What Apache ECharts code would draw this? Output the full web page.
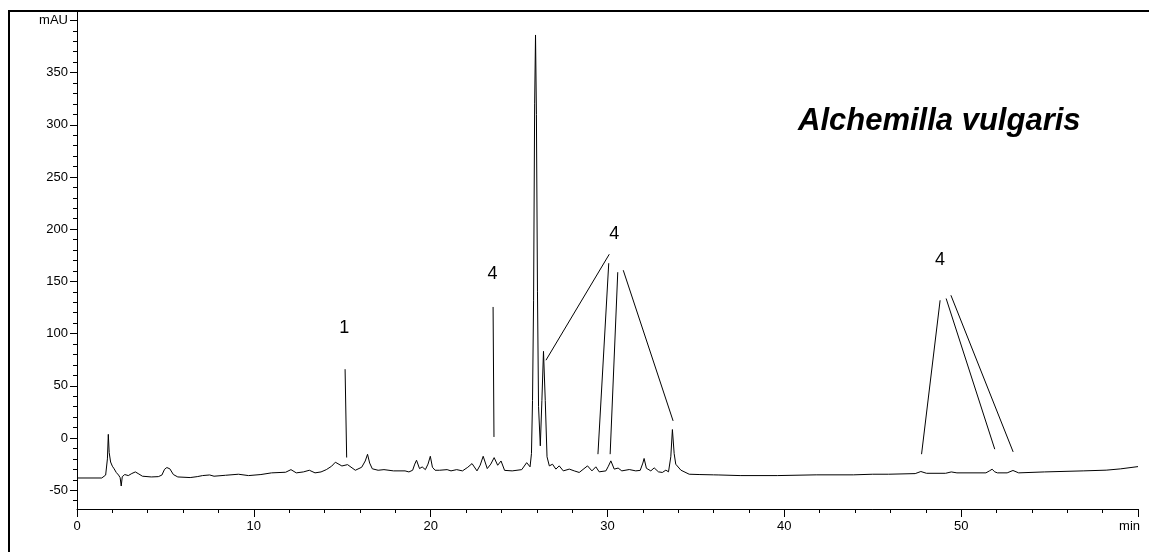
<!DOCTYPE html>
<html>
<head>
<meta charset="utf-8">
<script src="https://cdn.jsdelivr.net/npm/echarts@6/dist/echarts.min.js"></script>
<style>
  html, body { margin: 0; padding: 0; background: #fff; }
  #main { width: 1149px; height: 552px; }
</style>
</head>
<body>
<div id="main"></div>
<script>
// retention time (min) and absorbance (mAU)
var timeX = [0, 1.4, 1.62, 1.72, 1.77, 1.82, 1.9, 2.0, 2.1, 2.22, 2.35, 2.44, 2.5, 2.56, 2.7, 2.9, 3.1, 3.3, 3.5, 3.7,
  4.2, 4.6, 4.8, 4.95, 5.08, 5.25, 5.45, 5.7, 6.4, 6.8, 7.1, 7.5, 7.75, 8.4, 9.13, 9.7, 10.4, 11.0, 11.8, 12.1,
  12.4, 12.8, 13.14, 13.46, 13.8, 14.1, 14.4, 14.61, 14.98, 15.3, 15.74, 16.1, 16.3, 16.43, 16.55, 16.7, 17.03, 17.36, 17.9, 18.55,
  18.77, 18.98, 19.1, 19.2, 19.37, 19.52, 19.7, 19.85, 19.98, 20.1, 20.25, 20.5, 20.93, 21.15, 21.47, 21.8, 22.1, 22.34, 22.62, 22.8,
  22.97, 23.2, 23.4, 23.59, 23.79, 23.98, 24.18, 24.61, 25.15, 25.43, 25.62, 25.7, 25.76, 25.82, 25.88, 25.93, 25.98, 26.04, 26.1, 26.2,
  26.29, 26.38, 26.48, 26.58, 26.71, 26.89, 27.08, 27.27, 27.5, 27.84, 28.12, 28.4, 28.87, 29.12, 29.34, 29.53, 29.91, 30.05, 30.19, 30.38,
  30.6, 30.81, 31.23, 31.6, 31.85, 32.0, 32.07, 32.2, 32.45, 32.64, 32.88, 33.1, 33.3, 33.45, 33.58, 33.67, 33.77, 33.86, 34.15, 34.62,
  35.18, 36.0, 36.1, 36.3, 37.5, 39.6, 41.8, 43.9, 45.0, 45.9, 47.4, 47.72, 48.04, 49.12, 49.44, 49.76, 51.4, 51.6, 51.75, 51.9,
  52.05, 52.6, 52.93, 53.25, 54.7, 56.9, 58.2, 59.0, 60.0];
var signal = [-38.3, -38.3, -35.5, -20, 3.5, -14, -23, -27, -29.5, -33, -35.5, -38, -46, -37, -35, -36, -34, -32.5, -34.5, -36.6,
  -37.3, -37, -35.5, -30, -28.3, -29.5, -35, -37.3, -37.9, -37, -36, -35.4, -36.6, -35.7, -34.7, -36, -35, -33.4, -32.8, -30.3,
  -33.4, -32.5, -30.9, -33.4, -32.5, -30.3, -27, -23.2, -26.8, -25.5, -30.9, -28, -22, -15.6, -24, -29.5, -30.9, -30.3, -31.5, -31.5,
  -32.5, -30.9, -25, -21.3, -29.3, -27.7, -30.3, -25, -17.5, -28, -30.9, -30.9, -30.3, -31.5, -30.3, -31.5, -28, -24.5, -31.5, -26,
  -17.5, -29.3, -25, -18.8, -26.1, -22, -31, -31.5, -30.3, -23.6, -27.6, -15, 36, 132, 320, 386, 310, 140, 30, -7.5,
  36, 83, 36, -18, -26.7, -25.1, -29.8, -26.7, -31.5, -29.8, -31.5, -33, -26.7, -31.5, -27.6, -32.4, -31.5, -27, -21.9, -29.8,
  -28.8, -31.5, -30.2, -31.5, -31, -24, -19.6, -29, -31.5, -28.6, -32.4, -33, -30.8, -32.4, -18, 8.1, -15, -25.1, -30.8, -34.7,
  -35, -35.3, -34.6, -35.4, -36, -36, -35.3, -35.3, -34.7, -34.7, -34.1, -32.1, -33.8, -33.8, -32.5, -33.4, -33.4, -31.5, -29.9, -32.4,
  -33.4, -33.4, -31.1, -33.4, -32.5, -31.5, -30.8, -29.6, -27.4];

// peak annotations
var peakText = ['1', '4', '4', '4'];
var peakTextAt = [[15.12, 105], [23.5, 157.5], [30.38, 195.1], [48.8, 170.9]];
var pointerFrom = [[15.16, 65.9], [23.53, 125.5], [30.10, 176.0], [30.07, 167.4], [30.58, 158.8], [30.89, 160.7],
  [48.81, 131.9], [49.15, 133.6], [49.42, 136.7]];
var pointerTo = [[15.25, -18.7], [23.58, 1.0], [26.52, 74.5], [29.46, -15.5], [30.15, -15.5], [33.71, 16.4],
  [47.76, -15.5], [51.90, -10.7], [52.94, -13.3]];

var majorY = [-50, 0, 50, 100, 150, 200, 250, 300, 350, 400];
var minorY = [-60, -40, -30, -20, -10, 10, 20, 30, 40, 60, 70, 80, 90, 110, 120, 130, 140, 160, 170, 180, 190,
  210, 220, 230, 240, 260, 270, 280, 290, 310, 320, 330, 340, 360, 370, 380, 390];

var font = 'Liberation Sans, Arial, sans-serif';

var trace = timeX.map(function (t, i) { return [t, signal[i]]; });
var labels = peakText.map(function (s, i) {
  return { coord: peakTextAt[i], name: s, value: s };
});
var pointers = pointerFrom.map(function (p, i) { return [{ coord: p }, { coord: pointerTo[i] }]; });

var chart = echarts.init(document.getElementById('main'));
chart.setOption({
  animation: false,
  title: {
    text: 'Alchemilla vulgaris',
    left: 793,
    top: 101,
    textStyle: { fontFamily: font, fontSize: 31, fontStyle: 'italic', fontWeight: 'bold', color: '#000' }
  },
  graphic: [
    { type: 'line', shape: { x1: 8, y1: 11, x2: 1149, y2: 11 }, style: { stroke: '#000', lineWidth: 2 } },
    { type: 'line', shape: { x1: 9, y1: 10, x2: 9, y2: 552 }, style: { stroke: '#000', lineWidth: 2 } }
  ],
  grid: { left: 77, right: 11, top: 12, bottom: 43 },
  xAxis: {
    type: 'value',
    min: 0,
    max: 60,
    interval: 10,
    name: 'min',
    nameLocation: 'end',
    nameGap: 2,
    nameTextStyle: { fontFamily: font, fontSize: 13, color: '#000', align: 'right', verticalAlign: 'top', padding: [11, 0, 0, 0] },
    axisLine: { onZero: false, lineStyle: { color: '#000', width: 1 } },
    axisTick: { length: 8, lineStyle: { color: '#000' } },
    minorTick: { show: true, splitNumber: 5, length: 4, lineStyle: { color: '#000' } },
    axisLabel: { fontFamily: font, fontSize: 13, color: '#000', margin: 11, showMaxLabel: false },
    splitLine: { show: false }
  },
  yAxis: [{
    type: 'value',
    min: -68,
    max: 408,
    axisLine: { show: true, lineStyle: { color: '#000', width: 1 } },
    axisTick: { show: true, length: 4, customValues: minorY, lineStyle: { color: '#000' } },
    axisLabel: { show: false },
    splitLine: { show: false }
  }, {
    type: 'value',
    min: -68,
    max: 408,
    position: 'left',
    axisLine: { show: false },
    axisTick: { show: true, length: 7, customValues: majorY, lineStyle: { color: '#000' } },
    axisLabel: {
      customValues: majorY,
      fontFamily: font, fontSize: 13, color: '#000', margin: 9,
      formatter: function (v) { return v === 400 ? 'mAU' : v; }
    },
    splitLine: { show: false }
  }],
  series: [{
    type: 'line',
    data: trace,
    showSymbol: false,
    symbol: 'none',
    lineStyle: { color: '#000', width: 1 },
    markLine: {
      silent: true,
      symbol: ['none', 'none'],
      label: { show: false },
      lineStyle: { color: '#000', width: 1, type: 'solid' },
      emphasis: { disabled: true },
      data: pointers
    },
    markPoint: {
      silent: true,
      symbol: 'circle',
      symbolSize: 1,
      itemStyle: { color: 'rgba(0,0,0,0)' },
      label: {
        show: true,
        position: 'inside',
        formatter: function (p) { return p.name; },
        fontFamily: font, fontSize: 18, color: '#000'
      },
      data: labels
    }
  }]
});
</script>
</body>
</html>
